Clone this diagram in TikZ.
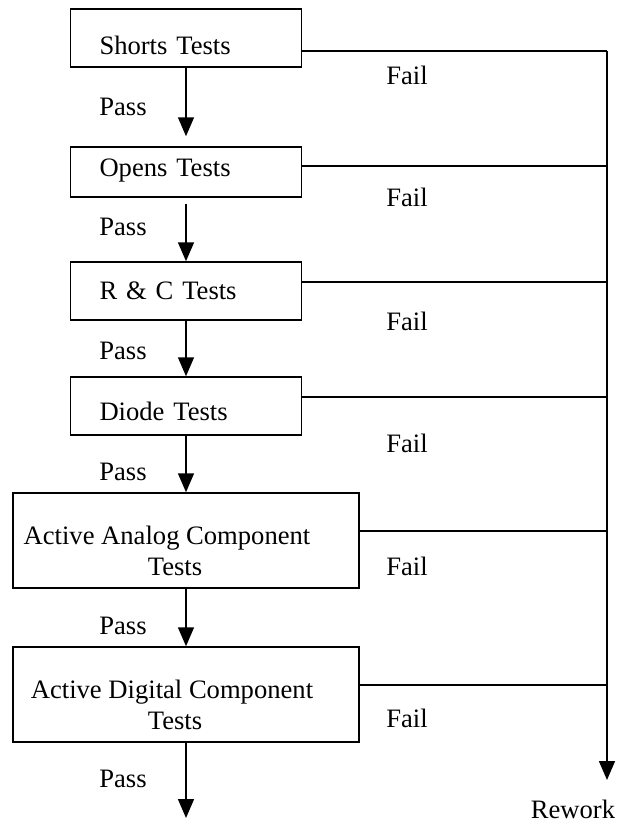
\documentclass[tikz,border=0pt]{standalone}
\usepackage{fontspec}
\setmainfont{Liberation Serif}
\usetikzlibrary{arrows.meta, positioning}

\begin{document}
\begin{tikzpicture}[x=0.5pt, y=-0.5pt, >={Triangle[length=9.5pt, width=8pt]}, line width=0.75pt,
    font=\fontsize{13.3}{15.5}\selectfont,
    testbox/.style={draw, rectangle, minimum width=115.5pt, minimum height=29pt,
        inner xsep=14.5pt, text width=86.5pt, align=left},
    widebox/.style={draw, rectangle, minimum width=173pt, minimum height=47.5pt, align=center}]
    \useasboundingbox (0, 0) rectangle (618, 821);

    % Nodes
    \node[testbox, text height=16.5pt, text depth=0.2pt] (ST) at (186, 38) {Shorts Tests};
    \node[testbox, minimum height=25pt, text height=9.4pt, text depth=5.2pt] (OT) at (186, 172) {Opens Tests};
    \node[testbox] (RC) at (186, 291) {R \& C Tests};
    \node[testbox, text height=14.4pt, text depth=0.2pt] (DT) at (186, 406) {Diode Tests};
    \node[widebox] (AA) at (186, 540.5)
        {\rule{0pt}{20pt}Active Analog Component\hspace*{19pt}\\Tests\hspace*{11pt}};
    \node[widebox] (AD) at (186, 694.5)
        {\rule{0pt}{20pt}Active Digital Component\hspace*{14pt}\\Tests\hspace*{11pt}};
    \node (RW) at (573, 809) {Rework};

    \node (P1) at (123, 107) {Pass};
    \node (P2) at (123, 227) {Pass};
    \node (P3) at (123, 351) {Pass};
    \node (P4) at (123, 472) {Pass};
    \node (P5) at (123, 626) {Pass};
    \node (P6) at (123, 779) {Pass};

    \node (F1) at (407, 75) {Fail};
    \node (F2) at (407, 197) {Fail};
    \node (F3) at (407, 321) {Fail};
    \node (F4) at (407, 443) {Fail};
    \node (F5) at (407, 566) {Fail};
    \node (F6) at (407, 718) {Fail};

    % Bus points
    \coordinate (B1) at (607, 51);
    \coordinate (B2) at (607, 166);
    \coordinate (B3) at (607, 282);
    \coordinate (B4) at (607, 397);
    \coordinate (B5) at (607, 531);
    \coordinate (B6) at (607, 685);
    \coordinate (BE) at (607, 780);
    \coordinate (PE) at (186, 818);

    % Paths
    \draw[->, shorten >=5pt] (ST) -- (OT);
    \draw[->, shorten <=3pt] (OT) -- (RC);
    \draw[->] (RC) -- (DT);
    \draw[->] (DT) -- (AA);
    \draw[->] (AA) -- (AD);
    \draw[->] (AD) -- (PE);

    \draw (B1 -| ST.east) -- (B1);
    \draw (B2 -| OT.east) -- (B2);
    \draw (B3 -| RC.east) -- (B3);
    \draw (B4 -| DT.east) -- (B4);
    \draw (B5 -| AA.east) -- (B5);
    \draw (B6 -| AD.east) -- (B6);
    \draw[->] (B1) -- (BE);
\end{tikzpicture}
\end{document}
